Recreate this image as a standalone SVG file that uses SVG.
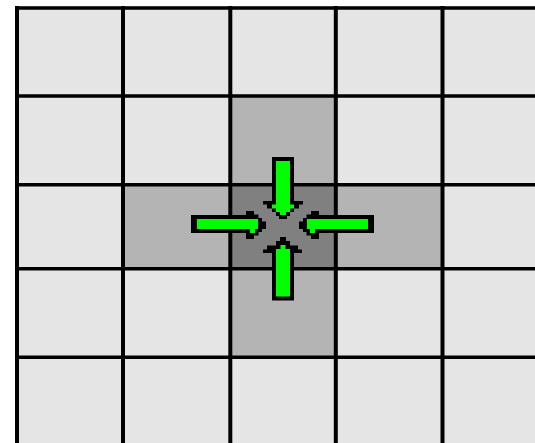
<svg xmlns="http://www.w3.org/2000/svg" width="535" height="443" viewBox="0 0 535 443">
  <style>
    .light { fill: #e5e5e5; }
    .mid { fill: #b4b4b4; }
    .dark { fill: #808080; }
    .gl { stroke: #000000; fill: none; }
    .v { stroke-width: 4; }
    .h { stroke-width: 3.6; }
    .outline { fill: #000000; }
    .green { fill: #00ff00; }
  </style>
  <rect x="0" y="0" width="535" height="443" fill="#ffffff"/>
  <g id="cells">
    <rect class="light" x="15" y="6" width="520" height="437"/>
    <rect id="cell-top" class="mid" x="230" y="96" width="106" height="89"/>
    <rect id="cell-left" class="mid" x="123" y="184.7" width="107" height="84"/>
    <rect id="cell-right" class="mid" x="336" y="184.7" width="107" height="84"/>
    <rect id="cell-bottom" class="mid" x="230" y="268.7" width="106" height="88.6"/>
    <rect id="cell-center" class="dark" x="230" y="184.7" width="106" height="84"/>
  </g>
  <g id="grid">
    <line class="gl v" x1="17" y1="6" x2="17" y2="443"/>
    <line class="gl v" x1="123" y1="6" x2="123" y2="443"/>
    <line class="gl v" x1="230.3" y1="6" x2="230.3" y2="443"/>
    <line class="gl v" x1="335.8" y1="6" x2="335.8" y2="443"/>
    <line class="gl v" x1="442.5" y1="6" x2="442.5" y2="443"/>
    <line class="gl h" x1="15" y1="8" x2="535" y2="8"/>
    <line class="gl h" x1="15" y1="96" x2="535" y2="96"/>
    <line class="gl h" x1="15" y1="184.7" x2="535" y2="184.7"/>
    <line class="gl h" x1="15" y1="268.7" x2="535" y2="268.7"/>
    <line class="gl h" x1="15" y1="357.3" x2="535" y2="357.3"/>
  </g>
  <g id="connectors">
    <g id="arrow-top">
      <path class="outline" d="M272,157 H294 V201 H303 V204.5 H299 V208.5 H294 V212 H290 V216 H287 V219 H279 V216 H276 V212 H272 V208.5 H267 V204.5 H263 V201 H272 Z"/>
      <path class="green" d="M276,161 H290 V204.5 H294 V208.5 H290 V212 H286 V215 H280 V212 H276 V208.5 H272 V204.5 H276 Z"/>
    </g>
    <g id="arrow-bottom">
      <path class="outline" d="M272,300.5 H294 V253 H302 V249.5 H298 V245.5 H290 V241 H286 V237 H280 V241 H276 V245.5 H267 V249.5 H263 V253 H272 Z"/>
      <path class="green" d="M276,296.5 H290 V249 H285.5 V245 H280.5 V249 H276 Z"/>
    </g>
    <g id="arrow-left">
      <path class="outline" d="M191,215 H246 V211 H254 V214.5 H258.5 V218 H262 V221.5 H266 V229 H262 V232 H258.5 V235.5 H254 V239 H246 V233 H191 Z"/>
      <path class="green" d="M197,219 H258 V229 H255 V233 H250 V229 H197 Z"/>
    </g>
    <g id="arrow-right">
      <path class="outline" d="M374,215 H319 V211 H311 V214.5 H306.5 V218 H303 V221.5 H299 V229 H303 V232 H306.5 V235.5 H311 V239 H319 V233 H374 Z"/>
      <path class="green" d="M368,219 H307 V229 H310 V233 H315 V229 H368 Z"/>
    </g>
  </g>
</svg>
